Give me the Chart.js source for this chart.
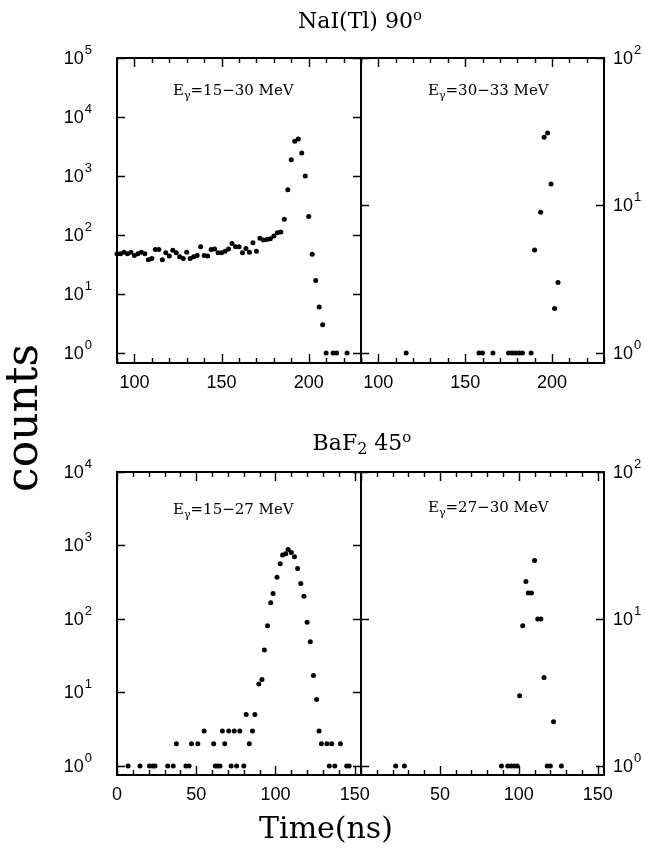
<!DOCTYPE html>
<html>
<head>
<meta charset="utf-8">
<script src="https://cdn.jsdelivr.net/npm/chart.js@4.4.1/dist/chart.umd.min.js"></script>
<style>
html, body { margin: 0; padding: 0; background: #fff; }
#wrap { position: relative; width: 645px; height: 852px; overflow: hidden; }
canvas { position: absolute; left: 0; top: 0; }
.txt { position: absolute; font-family: "DejaVu Serif", serif; color: #000; white-space: nowrap; line-height: 1; }
.txt sup, .txt sub { position: relative; vertical-align: baseline; line-height: 0; }
</style>
</head>
<body>
<div id="wrap">
  <canvas id="naiLow" width="645" height="852"></canvas>
  <canvas id="naiHigh" width="645" height="852"></canvas>
  <canvas id="bafLow" width="645" height="852"></canvas>
  <canvas id="bafHigh" width="645" height="852"></canvas>

  <div class="txt" style="font-size:22px; left:360px; top:10px; transform:translateX(-50%);">NaI(Tl) 90<sup style="font-size:15px; top:-0.55em;">o</sup></div>
  <div class="txt" style="font-size:22px; left:362px; top:432px; transform:translateX(-50%);">BaF<sub style="font-size:16px; top:0.25em;">2</sub> 45<sup style="font-size:15px; top:-0.55em;">o</sup></div>
  <div class="txt" style="font-size:44px; left:22px; top:418px; transform:translate(-50%,-50%) rotate(-90deg);">counts</div>
  <div class="txt" style="font-size:30px; left:326px; top:813px; transform:translateX(-50%);">Time(ns)</div>

  <div class="txt" style="font-size:15px; left:173px; top:83px;">E<sub style="font-size:11px; top:0.35em;">γ</sub>=15−30 MeV</div>
  <div class="txt" style="font-size:15px; left:428px; top:83px;">E<sub style="font-size:11px; top:0.35em;">γ</sub>=30−33 MeV</div>
  <div class="txt" style="font-size:15px; left:173px; top:502px;">E<sub style="font-size:11px; top:0.35em;">γ</sub>=15−27 MeV</div>
  <div class="txt" style="font-size:15px; left:428px; top:500px;">E<sub style="font-size:11px; top:0.35em;">γ</sub>=27−30 MeV</div>
</div>

<script>
// NaI(Tl) 90 deg, E = 15-30 MeV
const naiLowTime = [90, 92, 94, 96, 98, 100, 102, 104, 106, 108, 110, 112, 114, 116, 118, 120, 122, 124, 126, 128,
  130, 132, 134, 136, 138, 140, 142, 144, 146, 148, 150, 152, 154, 156, 158, 160, 162, 164, 166, 168,
  170, 172, 174, 176, 178, 180, 182, 184, 186, 188, 190, 192, 194, 196, 198, 200, 202, 204, 206, 208,
  210, 214, 216, 222];
const naiLowCounts = [48, 48, 51, 48, 51, 45, 48, 51, 48, 38, 40, 57, 57, 38, 50, 44, 55, 50, 43, 40,
  51, 40, 43, 45, 63, 45, 44, 57, 58, 50, 50, 53, 58, 72, 63, 63, 50, 59, 51, 74,
  53, 88, 82, 84, 86, 96, 109, 112, 185, 582, 1890, 3890, 4250, 2450, 1000, 205, 47, 17, 6, 3,
  1, 1, 1, 1];

// NaI(Tl) 90 deg, E = 30-33 MeV
const naiHighTime = [116, 158, 160, 166, 175, 177, 179, 181, 183, 188, 190, 193.5, 195.5, 197.5, 199.5, 201.5, 203.5];
const naiHighCounts = [1, 1, 1, 1, 1, 1, 1, 1, 1, 1, 5, 9, 29, 31, 14, 2, 3];

// BaF2 45 deg, E = 15-27 MeV
const bafLowTime = [7, 14.5, 20.5, 22.5, 24, 32, 35.5, 37.5, 43.5, 45.5, 47, 51, 55, 61, 62, 63.5, 65, 66.5, 68, 70.5,
  72, 74, 75.5, 77.5, 80, 81.5, 83.5, 85.5, 87, 89.5, 91.5, 93, 95, 97, 98.5, 101, 103, 104.5, 106.5, 108,
  110, 112, 114, 116, 118, 120, 122, 124, 126, 127.5, 129, 132.5, 134, 135.5, 137.5, 141, 145, 146.5];
const bafLowCounts = [1, 1, 1, 1, 1, 1, 1, 2, 1, 1, 2, 2, 3, 2, 1, 1, 1, 3, 2, 3,
  1, 3, 1, 3, 1, 5, 2, 3, 5, 13, 15, 38, 81, 166, 222, 371, 566, 740, 770, 885,
  800, 703, 487, 304, 204, 90, 49, 17, 8, 3, 2, 2, 1, 2, 1, 2, 1, 1];

// BaF2 45 deg, E = 27-30 MeV
const bafHighTime = [22, 27.5, 89, 93, 95, 97, 99, 100.5, 102.5, 104.5, 106, 108, 110, 112, 114, 116, 118, 120, 122, 127];
const bafHighCounts = [1, 1, 1, 1, 1, 1, 1, 3, 9, 18, 15, 15, 25, 10, 10, 4, 1, 1, 2, 1];

// axes
const naiTimeTicks = [90, 100, 110, 120, 130, 140, 150, 160, 170, 180, 190, 200, 210, 220, 230];
const naiTimeLabels = [100, 150, 200];
const bafTimeTicks = [0, 10, 20, 30, 40, 50, 60, 70, 80, 90, 100, 110, 120, 130, 140, 150];
const bafLowTimeLabels = [0, 50, 100, 150];
const bafHighTimeLabels = [50, 100, 150];
const naiLowDecades = [0, 1, 2, 3, 4, 5];
const bafLowDecades = [0, 1, 2, 3, 4];
const highDecades = [0, 1, 2];

// cadre, graduations vers l'intérieur et étiquettes
const framePlugin = {
    id: 'frame',
    afterDraw(chart, args, o) {
        const ctx = chart.ctx;
        const a = chart.chartArea;
        const x = chart.scales.x;
        const y = chart.scales.y;
        ctx.save();
        ctx.strokeStyle = '#000';
        ctx.lineWidth = 1.4;
        ctx.beginPath();
        o.xTicks.forEach(v => {
            const px = Math.round(x.getPixelForValue(v)) + 0.5;
            const len = v % 50 === 0 ? 9 : 5;
            ctx.moveTo(px, a.bottom); ctx.lineTo(px, a.bottom - len);
            ctx.moveTo(px, a.top); ctx.lineTo(px, a.top + len);
        });
        o.decades.forEach(e => {
            const py = Math.round(y.getPixelForValue(Math.pow(10, e))) + 0.5;
            ctx.moveTo(a.left, py); ctx.lineTo(a.left + 8, py);
            ctx.moveTo(a.right, py); ctx.lineTo(a.right - 8, py);
        });
        ctx.stroke();
        ctx.lineWidth = 2;
        ctx.strokeRect(a.left, a.top, a.right - a.left, a.bottom - a.top);

        ctx.fillStyle = '#000';
        const base = '18px "Liberation Sans", Arial, sans-serif';
        const small = '13px "Liberation Sans", Arial, sans-serif';
        ctx.font = base;
        ctx.textAlign = 'center';
        ctx.textBaseline = 'top';
        o.xLabels.forEach(v => ctx.fillText(String(v), x.getPixelForValue(v), a.bottom + 11));

        if (o.yLabelSide) {
            ctx.textAlign = 'left';
            ctx.textBaseline = 'middle';
            o.decades.forEach(e => {
                const py = y.getPixelForValue(Math.pow(10, e));
                ctx.font = base;
                const w10 = ctx.measureText('10').width;
                ctx.font = small;
                const ws = ctx.measureText(String(e)).width;
                const x0 = o.yLabelSide === 'left' ? a.left - 25 - ws - w10 - 1 : a.right + 9;
                ctx.font = base;
                ctx.fillText('10', x0, py + 1);
                ctx.font = small;
                ctx.fillText(String(e), x0 + w10 + 1, py - 8);
            });
        }
        ctx.restore();
    }
};

function makePanel(id, cfg) {
    const points = cfg.times.map((t, i) => ({ x: t, y: cfg.counts[i] }));
    return new Chart(document.getElementById(id), {
        type: 'scatter',
        data: {
            datasets: [{
                data: points,
                pointRadius: 2.5,
                pointBackgroundColor: '#000',
                pointBorderWidth: 0,
                clip: false
            }]
        },
        options: {
            responsive: false,
            devicePixelRatio: 1,
            animation: false,
            events: [],
            layout: { padding: cfg.padding },
            scales: {
                x: { type: 'linear', min: cfg.xMin, max: cfg.xMax, display: false },
                y: { type: 'logarithmic', min: cfg.yMin, max: cfg.yMax, display: false }
            },
            plugins: {
                legend: { display: false },
                tooltip: { enabled: false },
                frame: {
                    xTicks: cfg.xTicks,
                    xLabels: cfg.xLabels,
                    decades: cfg.decades,
                    yLabelSide: cfg.yLabelSide
                }
            }
        },
        plugins: [framePlugin]
    });
}

makePanel('naiLow', {
    times: naiLowTime, counts: naiLowCounts,
    padding: { left: 117, top: 58, right: 284, bottom: 489 },
    xMin: 90, xMax: 230, yMin: 0.677, yMax: 1e5,
    xTicks: naiTimeTicks, xLabels: naiTimeLabels, decades: naiLowDecades, yLabelSide: 'left'
});
makePanel('naiHigh', {
    times: naiHighTime, counts: naiHighCounts,
    padding: { left: 361, top: 58, right: 41, bottom: 489 },
    xMin: 90, xMax: 230, yMin: 0.855, yMax: 100,
    xTicks: naiTimeTicks, xLabels: naiTimeLabels, decades: highDecades, yLabelSide: 'right'
});
makePanel('bafLow', {
    times: bafLowTime, counts: bafLowCounts,
    padding: { left: 117, top: 472, right: 284, bottom: 77 },
    xMin: 0, xMax: 154, yMin: 0.754, yMax: 1e4,
    xTicks: bafTimeTicks, xLabels: bafLowTimeLabels, decades: bafLowDecades, yLabelSide: 'left'
});
makePanel('bafHigh', {
    times: bafHighTime, counts: bafHighCounts,
    padding: { left: 361, top: 472, right: 41, bottom: 77 },
    xMin: 0, xMax: 154, yMin: 0.868, yMax: 100,
    xTicks: bafTimeTicks, xLabels: bafHighTimeLabels, decades: highDecades, yLabelSide: 'right'
});
</script>
</body>
</html>
